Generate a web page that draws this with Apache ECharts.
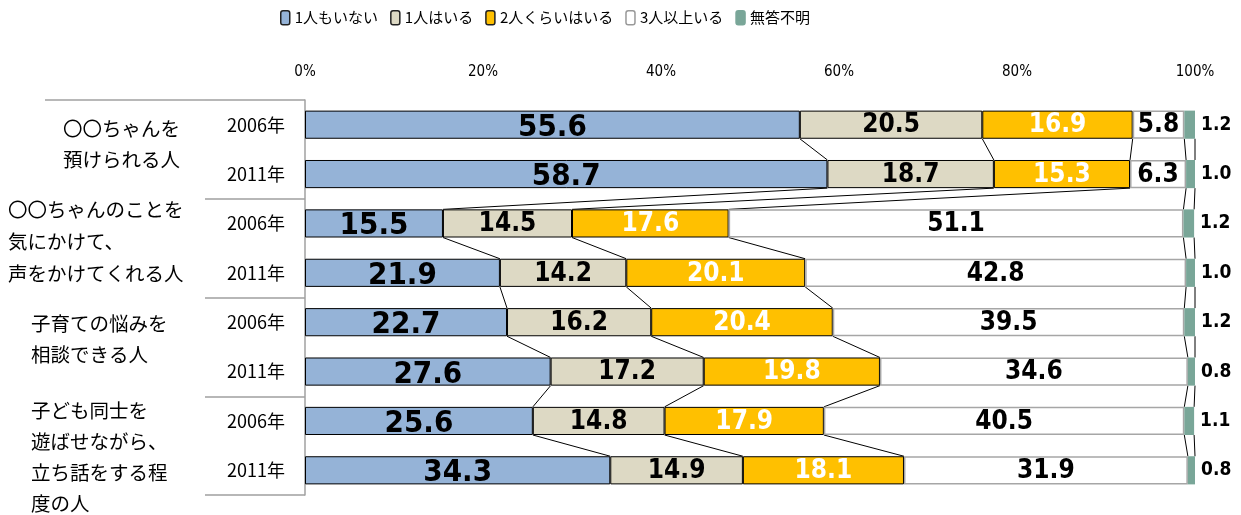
<!DOCTYPE html>
<html>
<head>
<meta charset="utf-8">
<script src="https://cdn.jsdelivr.net/npm/echarts@6/dist/echarts.min.js"></script>
<style>html,body{margin:0;padding:0;background:#fff}#c{width:1241px;height:515px}</style>
</head>
<body>
<div id="c"></div>
<script>
const seriesNames = ['1人もいない', '1人はいる', '2人くらいはいる', '3人以上いる', '無答不明'];
const yearLabels = ['2006年', '2011年', '2006年', '2011年', '2006年', '2011年', '2006年', '2011年'];
const groupLabels = [
  '〇〇ちゃんを\n預けられる人',
  '〇〇ちゃんのことを\n気にかけて、\n声をかけてくれる人',
  '子育ての悩みを\n相談できる人',
  '子ども同士を\n遊ばせながら、\n立ち話をする程\n度の人'
];
const noneValues   = [55.6, 58.7, 15.5, 21.9, 22.7, 27.6, 25.6, 34.3];
const oneValues    = [20.5, 18.7, 14.5, 14.2, 16.2, 17.2, 14.8, 14.9];
const twoValues    = [16.9, 15.3, 17.6, 20.1, 20.4, 19.8, 17.9, 18.1];
const threeValues  = [5.8, 6.3, 51.1, 42.8, 39.5, 34.6, 40.5, 31.9];
const unknownValues= [1.2, 1.0, 1.2, 1.0, 1.2, 0.8, 1.1, 0.8];
const xTicks = [0, 20, 40, 60, 80, 100];

const allValues = [noneValues, oneValues, twoValues, threeValues, unknownValues];
const colors = ['#95B3D7', '#DDD9C4', '#FFC000', '#FFFFFF', '#79A698'];
const borders = ['#000', '#000', '#000', '#A6A6A6', '#79A698'];
const BAR_FRAC = 0.57;
const numFont = '"DejaVu Sans Condensed", "Liberation Sans Narrow", "Noto Sans", sans-serif';
const jpFont = '"Noto Sans CJK JP", sans-serif';

// cumulative boundaries for series lines
const lineData = [];
for (let i = 0; i < yearLabels.length - 1; i++) {
  let c0 = 0, c1 = 0;
  for (let s = 0; s < allValues.length; s++) {
    c0 += allValues[s][i];
    c1 += allValues[s][i + 1];
    lineData.push([c0, i, c1]);
  }
}

const labelStyles = [
  { fontSize: 31, color: '#000', offset: [0, 3] },
  { fontSize: 26, color: '#000', offset: [0, 1] },
  { fontSize: 26, color: '#fff', offset: [0, 1] },
  { fontSize: 26, color: '#000', offset: [0, 1] },
];

const barSeries = allValues.map((vals, s) => {
  const isLast = s === allValues.length - 1;
  return {
    name: seriesNames[s],
    type: 'bar',
    stack: 'total',
    barWidth: (BAR_FRAC * 100) + '%',
    data: vals,
    itemStyle: { color: colors[s], borderColor: borders[s], borderWidth: isLast ? 0 : (s === 3 ? 1.5 : 1) },
    label: isLast ? {
      show: true, position: 'right', distance: 6,
      fontFamily: numFont, fontWeight: 'bold', fontSize: 19, color: '#000',
      formatter: p => p.value.toFixed(1)
    } : {
      show: true, position: 'inside',
      fontFamily: numFont, fontWeight: 'bold',
      fontSize: labelStyles[s].fontSize, color: labelStyles[s].color, offset: labelStyles[s].offset,
      formatter: p => p.value.toFixed(1)
    },
    emphasis: { disabled: true },
    z: 3
  };
});

const seriesLines = {
  type: 'custom',
  coordinateSystem: 'cartesian2d',
  xAxisIndex: 0, yAxisIndex: 0,
  encode: { x: [0, 2], y: 1 },
  data: lineData,
  silent: true,
  z: 2,
  renderItem: function (params, api) {
    const p0 = api.coord([api.value(0), api.value(1)]);
    const p1 = api.coord([api.value(2), api.value(1) + 1]);
    const half = api.size([0, 1])[1] * BAR_FRAC / 2;
    return {
      type: 'line',
      shape: { x1: p0[0], y1: p0[1] + half, x2: p1[0], y2: p1[1] - half },
      style: { stroke: '#000', lineWidth: 1 }
    };
  }
};

// spacer lines used to nudge each group label block vertically: [before, after]
const groupSpacers = [[0, 10], [0, 14], [0, 16], [22, 0]];

const chart = echarts.init(document.getElementById('c'), null, { renderer: 'canvas' });
chart.setOption({
  animation: false,
  backgroundColor: '#fff',
  grid: { left: 305, right: 46, top: 100, bottom: 20, containLabel: false, outerBoundsMode: 'none' },
  legend: {
    top: 5, left: 275,
    itemWidth: 9, itemHeight: 14, itemGap: 12,
    textStyle: { fontFamily: jpFont, fontSize: 15, color: '#000' },
    data: seriesNames.map((n, i) => ({ name: n, itemStyle: { borderColor: i === 4 ? colors[4] : (i === 3 ? '#999' : '#222'), borderWidth: 1.5 } }))
  },
  xAxis: {
    type: 'value', position: 'top', min: 0, max: 100, interval: 20,
    axisLine: { show: false }, axisTick: { show: false }, splitLine: { show: false },
    axisLabel: { formatter: v => xTicks.includes(v) ? v + '%' : '', margin: 20, fontFamily: numFont, fontSize: 15, color: '#000' }
  },
  yAxis: [
    {
      type: 'category', inverse: true, data: yearLabels,
      axisLine: { show: true, lineStyle: { color: '#A0A0A0', width: 1.5 } },
      axisTick: { show: false },
      axisLabel: { interval: 0, margin: 20, fontFamily: '"Noto Sans CJK JP", sans-serif', fontSize: 18, color: '#000' }
    },
    {
      type: 'category', inverse: true, data: groupLabels, position: 'left',
      axisLine: { show: false },
      axisTick: { show: true, interval: 0, length: 100, lineStyle: { color: '#A0A0A0', width: 1.5 } },
      axisLabel: {
        interval: 0, hideOverlap: false,
        align: 'left', margin: 297,
        fontFamily: jpFont, fontSize: 19.5, color: '#000', lineHeight: 31,
        formatter: function (v, idx) {
          const tag = 'g' + idx;
          const lines = v.split('\n').map(l => '{' + tag + '|' + l + '}');
          const sp = groupSpacers[idx];
          if (sp[0]) lines.unshift('{sp' + sp[0] + '| }');
          if (sp[1]) lines.push('{sp' + sp[1] + '| }');
          return lines.join('\n');
        },
        rich: {
          g0: { fontFamily: jpFont, fontSize: 19.5, lineHeight: 31, padding: [0, 0, 0, 55] },
          g1: { fontFamily: jpFont, fontSize: 19.5, lineHeight: 32, padding: [0, 0, 0, 0] },
          g2: { fontFamily: jpFont, fontSize: 19.5, lineHeight: 31, padding: [0, 0, 0, 23] },
          g3: { fontFamily: jpFont, fontSize: 19.5, lineHeight: 31, padding: [0, 0, 0, 23] },
          sp10: { fontSize: 1, lineHeight: 10 },
          sp14: { fontSize: 1, lineHeight: 14 },
          sp16: { fontSize: 1, lineHeight: 16 },
          sp22: { fontSize: 1, lineHeight: 22 }
        }
      }
    }
  ],
  series: barSeries.concat([seriesLines]),
  graphic: [{
    type: 'line', silent: true,
    shape: { x1: 45, y1: 100, x2: 205, y2: 100 },
    style: { stroke: '#A0A0A0', lineWidth: 1.5 }
  }]
});
</script>
</body>
</html>
